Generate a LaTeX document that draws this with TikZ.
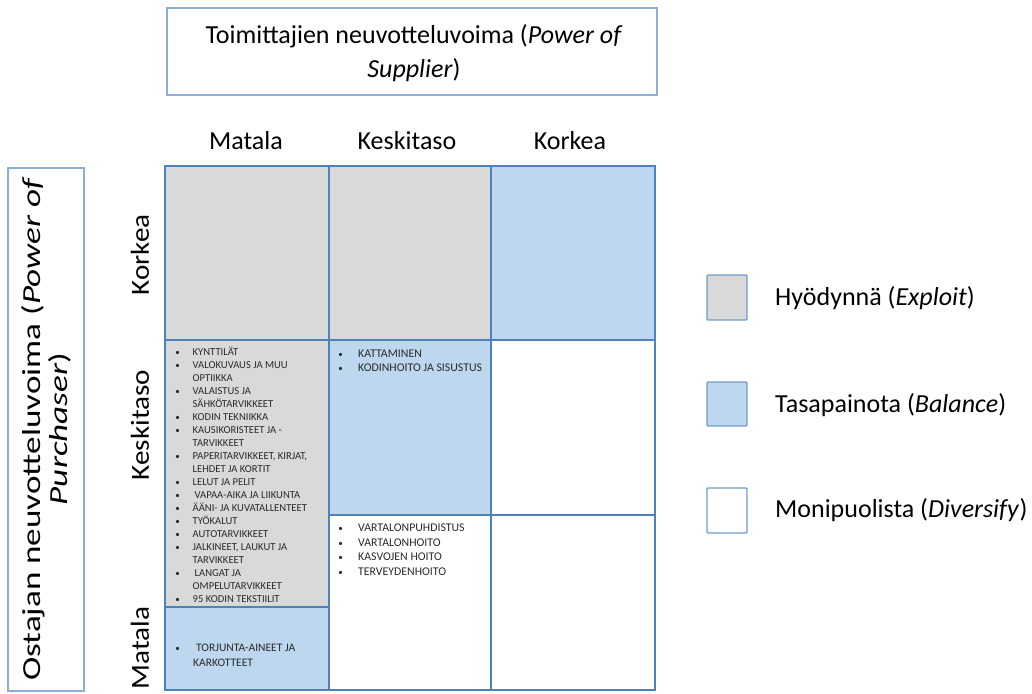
\documentclass[tikz,border=0pt]{standalone}
\usepackage{fontspec}
\setmainfont{Carlito}
\usetikzlibrary{positioning}

\definecolor{cellgray}{HTML}{D9D9D9}
\definecolor{cellblue}{HTML}{BDD7EE}
\definecolor{gridline}{HTML}{4F81BD}
\definecolor{boxline}{HTML}{8DAED6}
\definecolor{listtext}{HTML}{2A2A2A}

% Bulleted item list used inside the matrix cells: #1 size, #2 leading, #3 bullet column, #4 rows
\newcommand{\itemlist}[4]{%
  {\fontsize{#1}{#2}\selectfont
   \begin{tabular}{@{}p{#3}@{}l@{}}#4\end{tabular}}}
\newcommand{\bul}{\makebox[5pt][c]{\fontsize{9}{9}\selectfont •}}

\tikzset{
  cell/.style={draw=gridline, line width=1.3pt},
  gray cell/.style={cell, fill=cellgray},
  blue cell/.style={cell, fill=cellblue},
  white cell/.style={cell, fill=white},
  axisbox/.style={draw=boxline, line width=1.4pt, fill=white},
  bigtext/.style={font=\fontsize{26}{34}\selectfont, inner sep=0pt},
  legendbox/.style={draw=gridline!80, line width=1.3pt, rounded corners=1pt},
  listnode/.style={anchor=north west, inner sep=0pt, text=listtext},
}

\begin{document}
\begin{tikzpicture}[x=1pt, y=-1pt]
  \useasboundingbox (0,0) rectangle (1032,693);

  % axis title boxes
  \draw[axisbox] (167,8) rectangle (657,95);
  \node[bigtext, align=center] (supplier) at (414,53)
    {Toimittajien neuvotteluvoima (\textit{Power of}\\\textit{Supplier})};

  \draw[axisbox] (8,168) rectangle (84,691);
  \node[bigtext, rotate=90, align=center, font=\fontsize{26}{27}\selectfont] (purchaser) at (46,429)
    {\scalebox{1.35}[1]{Ostajan neuvotteluvoima (\textit{Power of}}\\
     \scalebox{1.35}[1]{\textit{Purchaser})}};

  % column headers
  \node[bigtext] (colA) at (246,141) {Matala};
  \node[bigtext] (colB) at (407,141) {Keskitaso};
  \node[bigtext] (colC) at (570,141) {Korkea};

  % row headers
  \node[bigtext, rotate=90] (rowA) at (140,255) {\scalebox{1.12}[1]{Korkea}};
  \node[bigtext, rotate=90] (rowB) at (140,425) {\scalebox{1.12}[1]{Keskitaso}};
  \node[bigtext, rotate=90] (rowC) at (140,648) {\scalebox{1.12}[1]{Matala}};

  % matrix cells
  \draw[gray cell]  (165,166) rectangle (329,340);
  \draw[gray cell]  (329,166) rectangle (491,340);
  \draw[blue cell]  (491,166) rectangle (655,340);
  \draw[gray cell]  (165,340) rectangle (329,607);
  \draw[blue cell]  (165,607) rectangle (329,690);
  \draw[blue cell]  (329,340) rectangle (491,515);
  \draw[white cell] (329,515) rectangle (491,690);
  \draw[white cell] (491,340) rectangle (655,515);
  \draw[white cell] (491,515) rectangle (655,690);

  % cell contents
  \node[listnode] (listA2) at (175,346) {\itemlist{10.6}{13}{17.5pt}{%
    \bul & KYNTTILÄT\\
    \bul & VALOKUVAUS JA MUU\\
         & OPTIIKKA\\
    \bul & VALAISTUS JA\\
         & SÄHKÖTARVIKKEET\\
    \bul & KODIN TEKNIIKKA\\
    \bul & KAUSIKORISTEET JA -\\
         & TARVIKKEET\\
    \bul & PAPERITARVIKKEET, KIRJAT,\\
         & LEHDET JA KORTIT\\
    \bul & LELUT JA PELIT\\
    \bul & \hspace{2pt}VAPAA-AIKA JA LIIKUNTA\\
    \bul & ÄÄNI- JA KUVATALLENTEET\\
    \bul & TYÖKALUT\\
    \bul & AUTOTARVIKKEET\\
    \bul & JALKINEET, LAUKUT JA\\
         & TARVIKKEET\\
    \bul & \hspace{2pt}LANGAT JA\\
         & OMPELUTARVIKKEET\\
    \bul & 95 KODIN TEKSTIILIT}};

  \node[listnode] (listA3) at (175,641) {\itemlist{11.5}{15}{18pt}{%
    \bul & \hspace{3pt}TORJUNTA-AINEET JA\\
         & KARKOTTEET}};

  \node[listnode] (listB2) at (338,347) {\itemlist{11.8}{14}{20pt}{%
    \bul & KATTAMINEN\\
    \bul & KODINHOITO JA SISUSTUS}};

  \node[listnode] (listB3) at (338,521) {\itemlist{11.8}{14.7}{20pt}{%
    \bul & VARTALONPUHDISTUS\\
    \bul & VARTALONHOITO\\
    \bul & KASVOJEN HOITO\\
    \bul & TERVEYDENHOITO}};

  % legend
  \draw[legendbox, fill=cellgray]  (707,275) rectangle (747,320);
  \node[bigtext, anchor=west] (exploit) at (775,298) {Hyödynnä (\textit{Exploit})};
  \draw[legendbox, fill=cellblue]  (707,382) rectangle (747,426);
  \node[bigtext, anchor=west] (balance) at (775,405) {Tasapainota (\textit{Balance})};
  \draw[legendbox, fill=white]     (707,488) rectangle (747,533);
  \node[bigtext, anchor=west] (diversify) at (775,510) {Monipuolista (\textit{Diversify})};
\end{tikzpicture}
\end{document}
